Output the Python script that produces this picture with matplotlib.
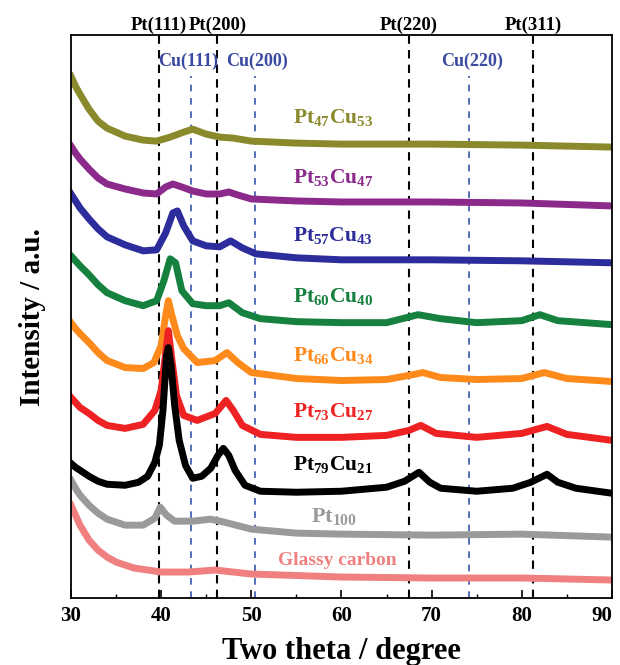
import matplotlib
matplotlib.use("Agg")
import matplotlib.pyplot as plt

plt.rcParams['font.family'] = ['Liberation Serif', 'DejaVu Serif']
plt.rcParams['font.weight'] = 'bold'
plt.rcParams['mathtext.fontset'] = 'custom'
plt.rcParams['mathtext.rm'] = 'Liberation Serif:bold'
plt.rcParams['mathtext.bf'] = 'Liberation Serif:bold'
plt.rcParams['mathtext.default'] = 'bf'

# reflexoes de referencia (2 theta)
pt_pos = [39.76, 46.24, 67.45, 81.29]
pt_lab = ['Pt(111)', 'Pt(200)', 'Pt(220)', 'Pt(311)']
cu_pos = [43.3, 50.4, 74.1]
cu_lab = ['Cu(111)', 'Cu(200)', 'Cu(220)']

# curvas (intensidade em u.a., ja deslocadas)
x_olive = [30, 30.5, 31, 32, 33, 34, 36, 38, 39.5, 41, 42.5, 43.5, 45, 46.5, 48, 50, 55, 60, 70, 80, 90]
y_olive = [525, 515, 507, 492, 480, 473, 465, 461, 460, 464, 469, 472, 467, 464, 463, 460, 458, 457, 457, 456, 454]

x_purple = [30, 30.5, 31, 32, 33, 34, 36, 38, 39.5, 40.5, 41.3, 42.3, 43.5, 45, 46.5, 47.5, 48.5, 50, 55, 60, 70, 80, 90]
y_purple = [455, 448, 442, 432, 423, 417, 412, 408, 407, 414, 417, 414, 410, 407, 407, 409, 406, 402, 400, 399, 399, 398, 395]

x_blue = [30, 30.5, 31, 32, 33, 34, 36, 38, 39.5, 40.5, 41.3, 41.8, 42.5, 43.5, 45, 46.5, 47.7, 49, 50.5, 55, 60, 70, 80, 90]
y_blue = [407, 400, 393, 382, 372, 364, 356, 350, 351, 368, 388, 390, 375, 360, 355, 354, 360, 353, 347, 343, 341, 341, 340, 338]

x_green = [30, 30.5, 31, 32, 33, 34, 36, 38, 39.5, 40.3, 41, 41.6, 42.3, 43.5, 45, 46.5, 47.5, 49, 51, 55, 60, 65,
           68.5, 71, 75, 80, 82, 84, 90]
y_green = [345, 340, 335, 326, 316, 308, 300, 295, 300, 320, 342, 338, 310, 297, 295, 295, 298, 288, 282, 279, 278, 278,
           286, 282, 278, 280, 286, 280, 276]

x_orange = [30, 30.5, 31, 32, 33, 34, 36, 38, 39.2, 40, 40.5, 40.8, 41.2, 41.8, 42.5, 44, 46, 47.3, 48.5, 50, 55, 60,
            65, 68, 69, 71, 75, 80, 82.5, 85, 90]
y_orange = [278, 272, 267, 258, 248, 240, 233, 232, 238, 255, 285, 300, 285, 265, 252, 238, 240, 248, 238, 228, 222, 220,
            221, 226, 228, 223, 221, 222, 228, 222, 219]

x_red = [30, 30.5, 31, 32, 33, 34, 36, 38, 39.3, 40, 40.4, 40.8, 41.2, 41.7, 42.5, 44, 46, 47.2, 48, 49, 51, 55, 60,
         65, 67.5, 68.8, 70.5, 75, 80, 82.8, 85, 90]
y_red = [203, 198, 193, 187, 180, 175, 172, 176, 190, 210, 240, 270, 240, 205, 185, 180, 187, 200, 190, 175, 166, 163, 163,
         165, 170, 175, 167, 163, 167, 174, 166, 160]

x_black = [30, 30.5, 31, 32, 33, 34, 36, 37.5, 38.5, 39.3, 39.8, 40.2, 40.6, 40.8, 41.1, 41.5, 42, 42.7, 43.5, 44.5,
           45.5, 46.3, 46.9, 47.5, 48.2, 49.3, 51, 55, 60, 65, 67, 68.6, 69.8, 71, 75, 79, 81, 82.8, 84, 86, 90]
y_black = [137, 133, 130, 124, 119, 116, 115, 118, 124, 138, 155, 190, 245, 253, 235, 195, 160, 135, 122, 124,
           132, 145, 152, 145, 130, 115, 109, 108, 109, 113, 119, 128, 118, 112, 109, 112, 118, 126, 118, 112, 107]

x_gray = [30, 30.5, 31, 32, 33, 34, 36, 38, 39.3, 39.9, 40.6, 41.5, 43.5, 45.5, 47, 50, 55, 60, 70, 80, 90]
y_gray = [120, 112, 105, 95, 87, 81, 75, 75, 82, 93, 85, 79, 79, 81, 78, 71, 67, 66, 65, 66, 63]

x_pink = [30, 30.5, 31, 32, 33, 34, 35, 37, 40, 43, 46, 50, 60, 70, 80, 90]
y_pink = [95, 85, 75, 60, 50, 43, 38, 32, 28, 28, 30, 26, 23, 22, 22, 20]

curvas = [
    (x_olive, y_olive, '#8a8a2c', r'Pt$_{47}$Cu$_{53}$', 54.6, 484, 15.5),
    (x_purple, y_purple, '#8c2a8c', r'Pt$_{53}$Cu$_{47}$', 54.6, 424, 15.5),
    (x_blue, y_blue, '#2c2c9c', r'Pt$_{57}$Cu$_{43}$', 54.6, 365, 15.5),
    (x_green, y_green, '#16803e', r'Pt$_{60}$Cu$_{40}$', 54.6, 304, 15.5),
    (x_orange, y_orange, '#ff8a1c', r'Pt$_{66}$Cu$_{34}$', 54.6, 245, 15.5),
    (x_red, y_red, '#ee2222', r'Pt$_{73}$Cu$_{27}$', 54.6, 189, 15.5),
    (x_black, y_black, '#000000', r'Pt$_{79}$Cu$_{21}$', 54.6, 136, 15.5),
    (x_gray, y_gray, '#9a9a9a', r'Pt$_{100}$', 56.6, 84, 16),
    (x_pink, y_pink, '#f08080', 'Glassy carbon', 53.0, 40, 14),
]

fig = plt.figure(figsize=(6.2, 6.65), dpi=100)
ax = fig.add_axes([0.1145, 0.1008, 0.8725, 0.846])

for p in pt_pos:
    ax.axvline(p, color='black', ls=(0, (4, 3)), lw=1.5, zorder=1)
for p in cu_pos:
    ax.plot([p, p], [2, 525], color='#3a55b0', ls=(0, (4, 4)), lw=1.2, zorder=1)

for xs, ys, cor, nome, tx, ty, fs in curvas:
    ax.plot(xs, ys, color=cor, lw=5, solid_joinstyle='round', zorder=2)
    ax.text(tx, ty, nome, color=cor, fontsize=fs, fontweight='bold', ha='left', va='center')

for p, t in zip(pt_pos, pt_lab):
    ax.text(p, 1.018, t, transform=ax.get_xaxis_transform(), fontsize=13.5,
            fontweight='bold', ha='center', va='center')
cu_txt_pos = [43.0, 50.6, 74.5]
for p, t in zip(cu_txt_pos, cu_lab):
    ax.text(p, 0.953, t, transform=ax.get_xaxis_transform(), fontsize=13,
            fontweight='bold', color='#3a4aa0', ha='center', va='center')

ax.set_xlim(30, 90)
ax.set_ylim(2, 566)
ax.set_yticks([])
ax.set_xticks(range(30, 91, 10))
ax.set_xticks(range(35, 90, 10), minor=True)
ax.tick_params(axis='x', direction='in', length=6, width=1.2, labelsize=15, pad=6)
ax.tick_params(axis='x', which='minor', direction='in', length=3, width=1.0)
for lbl in ax.get_xticklabels():
    lbl.set_fontweight('bold')
ax.get_xticklabels()[-1].set_horizontalalignment('right')
for s in ax.spines.values():
    s.set_linewidth(1.3)

ax.set_xlabel('Two theta / degree', fontsize=22, fontweight='bold', labelpad=8)
ax.set_ylabel('Intensity / a.u.', fontsize=21, fontweight='bold', labelpad=18)

fig.savefig('out.png', dpi=100)
